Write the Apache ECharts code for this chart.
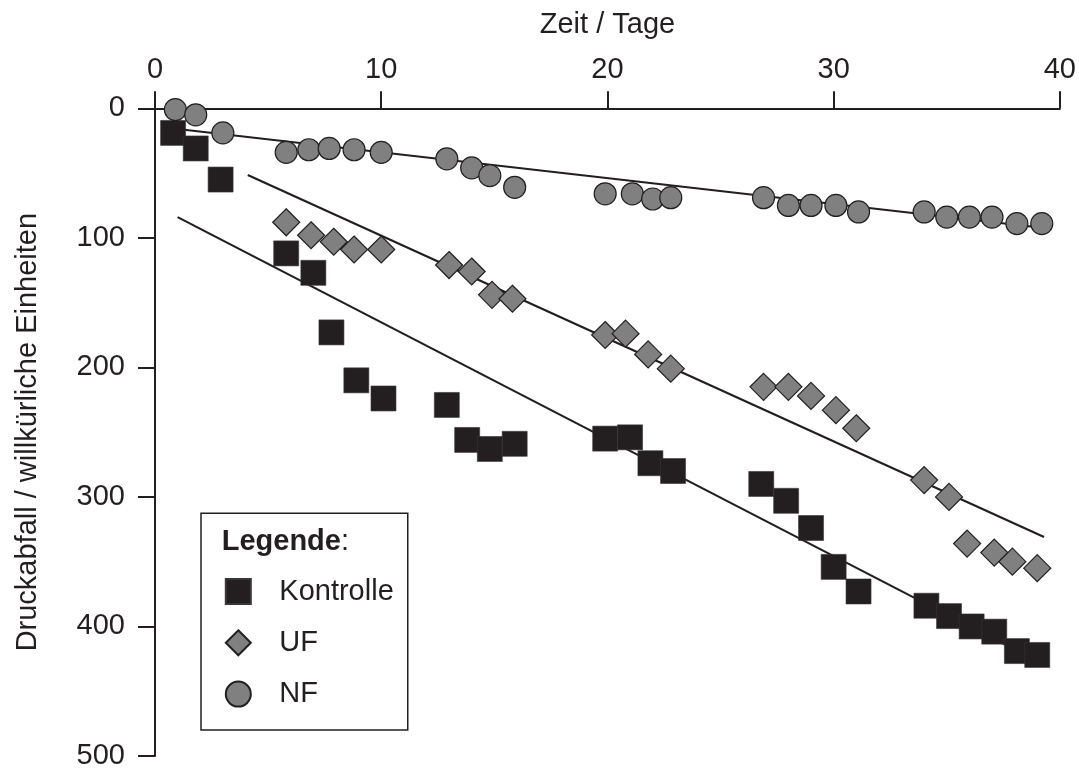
<!DOCTYPE html>
<html>
<head>
<meta charset="utf-8">
<script src="https://cdn.jsdelivr.net/npm/echarts@6/dist/echarts.min.js"></script>
<style>
  html, body { margin: 0; padding: 0; background: #ffffff; }
  #chart { width: 1079px; height: 771px; }
</style>
</head>
<body>
<div id="chart"></div>
<script>
// ---- data ----
const xTicks = [0, 10, 20, 30, 40];
const yTicks = [0, 100, 200, 300, 400, 500];

const kontrolleDays   = [0.8, 1.8, 2.9, 5.8, 7.0, 7.8, 8.9, 10.1, 12.9, 13.8, 14.8, 15.9, 19.9, 21.0, 21.9, 22.9, 26.8, 27.9, 29.0, 30.0, 31.1, 34.1, 35.1, 36.1, 37.1, 38.1, 39.0];
const kontrolleValues = [19, 31, 55, 112, 127, 173, 210, 224, 229, 256, 263, 259, 255, 254, 274, 280, 290, 303, 324, 354, 373, 384, 392, 400, 404, 419, 422];

const ufDays   = [5.8, 6.9, 7.9, 8.8, 10.0, 13.0, 14.0, 14.9, 15.8, 19.9, 20.8, 21.8, 22.8, 26.9, 28.0, 29.0, 30.1, 31.0, 34.0, 35.1, 35.9, 37.1, 37.9, 39.0];
const ufValues = [88, 98, 103, 109, 109, 121, 126, 144, 147, 175, 174, 190, 201, 215, 215, 222, 233, 247, 287, 300, 336, 343, 350, 355];

const nfDays   = [0.9, 1.8, 3.0, 5.8, 6.8, 7.7, 8.8, 10.0, 12.9, 14.0, 14.8, 15.9, 19.9, 21.1, 22.0, 22.8, 26.9, 28.0, 29.0, 30.1, 31.1, 34.0, 35.0, 36.0, 37.0, 38.1, 39.2];
const nfValues = [1, 5, 19, 34, 32, 31, 32, 34, 39, 46, 52, 61, 66, 66, 70, 69, 69, 75, 75, 75, 80, 80, 84, 84, 84, 89, 89];

// regression lines (start / end)
const kontrolleTrendDays   = [1.0, 38.9];
const kontrolleTrendValues = [84, 426];
const ufTrendDays   = [4.1, 39.3];
const ufTrendValues = [51.5, 331];
const nfTrendDays   = [1.0, 39.1];
const nfTrendValues = [16, 92];

const seriesNames = ['Kontrolle', 'UF', 'NF'];

// ---- helpers ----
const zip = (xs, ys) => xs.map((x, i) => [x, ys[i]]);
const INK = '#231f20';
const GREY = '#808080';
const FONT = '"Liberation Sans", Arial, Helvetica, sans-serif';
const FS = 29;

const chart = echarts.init(document.getElementById('chart'), null, { renderer: 'canvas' });

const trend = (name, xs, ys) => ({
  name: name,
  type: 'line',
  data: zip(xs, ys),
  symbol: 'none',
  showSymbol: false,
  silent: true,
  z: 1,
  lineStyle: { color: INK, width: 2.2 },
  itemStyle: { color: INK }
});

chart.setOption({
  animation: false,
  backgroundColor: '#ffffff',
  textStyle: { fontFamily: FONT },
  grid: { left: 155, right: 18.3, top: 108.3, bottom: 15, containLabel: false },
  xAxis: {
    type: 'value',
    position: 'top',
    min: xTicks[0],
    max: xTicks[xTicks.length - 1],
    interval: 10,
    name: 'Zeit / Tage',
    nameLocation: 'middle',
    nameGap: 69,
    nameTextStyle: { fontSize: FS, color: INK, fontFamily: FONT },
    axisLine: { show: true, onZero: false, lineStyle: { color: INK, width: 2 } },
    axisTick: { show: true, inside: false, length: 17, lineStyle: { color: INK, width: 2 } },
    axisLabel: { fontSize: FS, color: INK, margin: 24, fontFamily: FONT, showMinLabel: true, showMaxLabel: true },
    splitLine: { show: false }
  },
  yAxis: {
    type: 'value',
    inverse: true,
    min: yTicks[0],
    max: yTicks[yTicks.length - 1],
    interval: 100,
    name: 'Druckabfall / willkürliche Einheiten',
    nameLocation: 'middle',
    nameGap: 113,
    nameTextStyle: { fontSize: FS, color: INK, fontFamily: FONT },
    axisLine: { show: true, onZero: false, lineStyle: { color: INK, width: 2 } },
    axisTick: { show: true, inside: false, length: 17, lineStyle: { color: INK, width: 2 } },
    axisLabel: { fontSize: FS, color: INK, margin: 30, fontFamily: FONT, showMinLabel: true, showMaxLabel: true },
    splitLine: { show: false }
  },
  legend: {
    data: seriesNames,
    orient: 'vertical',
    left: 201,
    top: 513.3,
    itemWidth: 25,
    itemHeight: 25,
    itemGap: 22.3,
    padding: [63.7, 14, 21.4, 23.8],
    borderColor: INK,
    borderWidth: 1.5,
    selectedMode: false,
    textStyle: { fontSize: FS, color: INK, fontFamily: FONT, padding: [0, 0, 0, 23.5] }
  },
  graphic: [{
    type: 'text',
    x: 221.7,
    y: 542,
    z: 100,
    style: {
      text: '{b|Legende}:',
      fontSize: FS,
      fontFamily: FONT,
      fill: INK,
      verticalAlign: 'middle',
      align: 'left',
      rich: { b: { fontWeight: 'bold', fontSize: FS, fontFamily: FONT, fill: INK } }
    }
  }],
  series: [
    trend('Trend Kontrolle', kontrolleTrendDays, kontrolleTrendValues),
    trend('Trend UF', ufTrendDays, ufTrendValues),
    trend('Trend NF', nfTrendDays, nfTrendValues),
    {
      name: 'Kontrolle',
      type: 'scatter',
      data: zip(kontrolleDays, kontrolleValues),
      symbol: 'rect',
      symbolSize: 25,
      z: 3,
      itemStyle: { color: INK, borderColor: '#3a3637', borderWidth: 0.6, opacity: 1 }
    },
    {
      name: 'UF',
      type: 'scatter',
      data: zip(ufDays, ufValues),
      symbol: 'diamond',
      symbolSize: 27,
      z: 3,
      itemStyle: { color: GREY, borderColor: INK, borderWidth: 1.2, opacity: 1 }
    },
    {
      name: 'NF',
      type: 'scatter',
      data: zip(nfDays, nfValues),
      symbol: 'circle',
      symbolSize: 22,
      z: 3,
      itemStyle: { color: GREY, borderColor: INK, borderWidth: 1.2, opacity: 1 }
    }
  ]
});
</script>
</body>
</html>
